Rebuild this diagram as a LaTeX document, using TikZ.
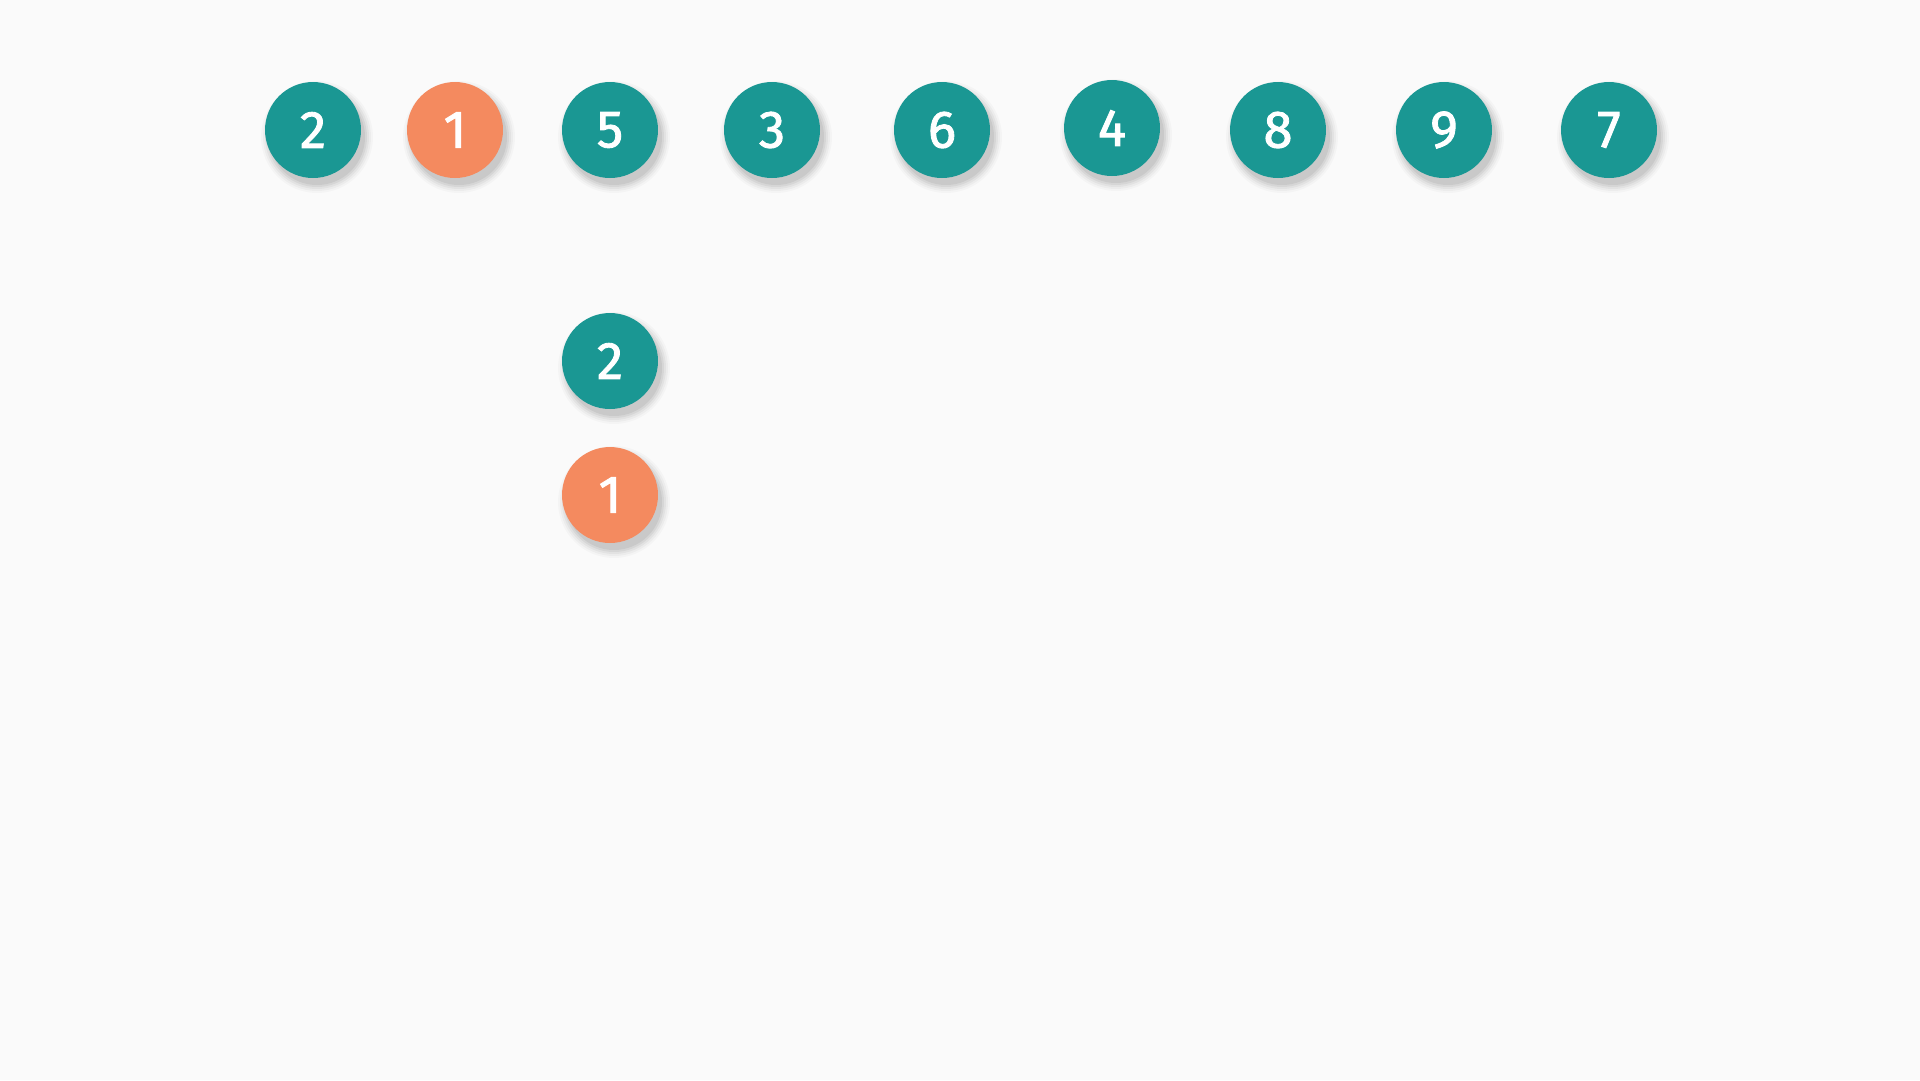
\documentclass[tikz,border=0pt]{standalone}
\usepackage{fontspec}
\setmainfont{Fira Sans}
\newfontfamily\numfont[FakeBold=1.6]{Fira Sans}
\definecolor{bg}{RGB}{250,250,250}
\definecolor{teal}{RGB}{26,151,147}
\definecolor{coral}{RGB}{244,138,95}
\tikzset{
  ball/.style={circle, minimum size=1.92cm, inner sep=0pt, text=white,
    font=\numfont\fontsize{30}{30}\selectfont},
  tealball/.style={ball, fill=teal},
  coralball/.style={ball, fill=coral},
}
\begin{document}
\begin{tikzpicture}[x=0.02cm, y=-0.02cm]
\fill[bg] (0,0) rectangle (1920,1080);
\useasboundingbox (0,0) rectangle (1920,1080);
% soft shadows
\foreach \px/\py in {313/130,455/130,610/130,772/130,942/130,1112/128,1278/130,1444/130,1609/130,610/361,610/495}{
  \foreach \r/\o in {1.12/0.025,1.08/0.03,1.04/0.04,1.00/0.05,0.96/0.06}{
    \fill[black, opacity=\o] (\px+4,\py+7) circle[radius=\r cm];
  }
}
\node[tealball]  (a2) at (313,130) {2};
\node[coralball] (a1) at (455,130) {1};
\node[tealball]  (a5) at (610,130) {5};
\node[tealball]  (a3) at (772,130) {3};
\node[tealball]  (a6) at (942,130) {6};
\node[tealball]  (a4) at (1112,128) {4};
\node[tealball]  (a8) at (1278,130) {8};
\node[tealball]  (a9) at (1444,130) {9};
\node[tealball]  (a7) at (1609,130) {7};
\node[tealball]  (b2) at (610,361) {2};
\node[coralball] (b1) at (610,495) {1};
\end{tikzpicture}
\end{document}
